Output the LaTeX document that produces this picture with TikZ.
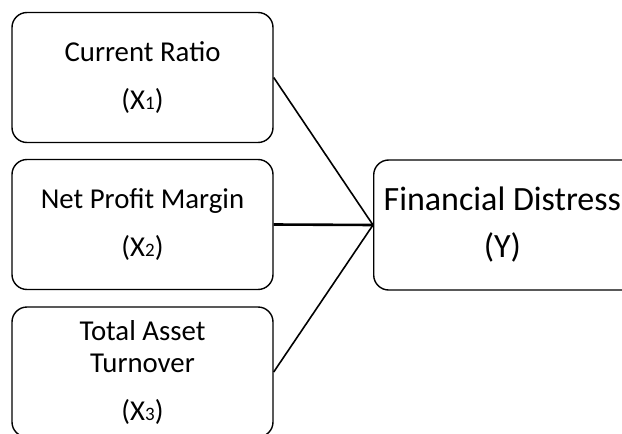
\documentclass[tikz,border=0pt]{standalone}
\usepackage{fontspec}
\setmainfont{Carlito}
\begin{document}
\begin{tikzpicture}[x=1pt,y=-1pt,
  box/.style={draw=black,line width=1.4pt,rounded corners=15pt,minimum width=261pt,minimum height=130pt,inner sep=0pt,align=center,text=black},
  link/.style={draw=black,line width=1.6pt}]
\useasboundingbox (0,0) rectangle (622,434);
\clip (0,0) rectangle (622,434);
\newcommand{\smalldigit}[1]{{\fontsize{19}{19}\selectfont #1}}
\node[box,font=\fontsize{28.8}{48}\selectfont] (b1) at (142.5,77.5) {Current Ratio\\(X\smalldigit{1})};
\node[box,font=\fontsize{28.8}{48}\selectfont] (b2) at (142.5,224.5) {Net Profit Margin\\(X\smalldigit{2})};
\node[box,font=\fontsize{28.8}{32}\selectfont] (b3) at (142.5,372) {Total Asset\\Turnover\\[16pt](X\smalldigit{3})};
\node[box,anchor=west,minimum width=0pt,inner xsep=10pt,font=\fontsize{34}{47}\selectfont] (y) at (373,225) {\begin{tabular}{@{}c@{\hspace{40pt}}}Financial Distress\\(Y)\end{tabular}};
\draw[link] (b1.east) -- (y.west);
\draw[link,line width=2.6pt] (b2.east) -- (y.west);
\draw[link] (b3.east) -- (y.west);
\end{tikzpicture}
\end{document}
